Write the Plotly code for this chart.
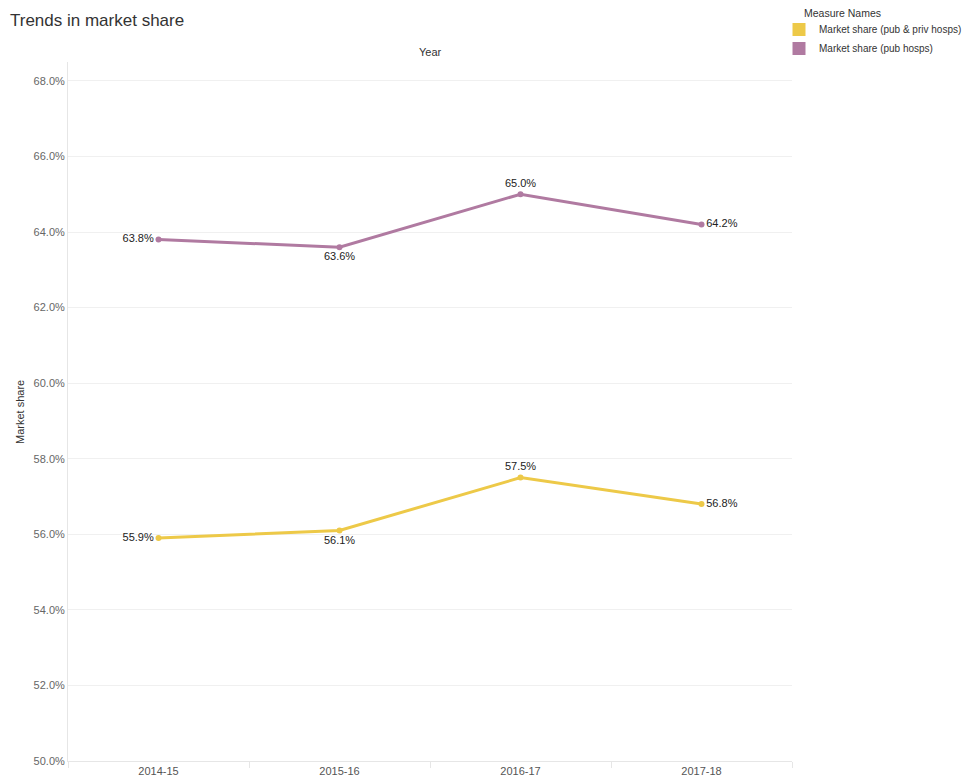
import plotly.graph_objects as go

# Fiscal years and market share (%) for each measure
years = ["2014-15", "2015-16", "2016-17", "2017-18"]
share_pub_priv = [55.9, 56.1, 57.5, 56.8]
share_pub = [63.8, 63.6, 65.0, 64.2]

series_names = ["Market share (pub & priv hosps)", "Market share (pub hosps)"]
series_values = [share_pub_priv, share_pub]
series_colors = ["#edc948", "#b07aa1"]
label_positions = ["middle left", "bottom center", "top center", "middle right"]

y_ticks = [50, 52, 54, 56, 58, 60, 62, 64, 66, 68]

FONT = "Liberation Sans, Arial, sans-serif"

# plot area in pixels
L, R, T, B = 68, 792, 62, 761
W, H = 962, 781

def px_x(x):
    return (x - L) / (R - L)

def px_y(y):
    return (B - y) / (B - T)

fig = go.Figure()

for name, vals, color in zip(series_names, series_values, series_colors):
    fig.add_trace(go.Scatter(
        x=years, y=vals, mode="lines+markers+text",
        line=dict(color=color, width=3),
        marker=dict(color=color, size=6),
        text=[f"{v:.1f}%" for v in vals],
        textposition=label_positions,
        textfont=dict(family=FONT, size=11, color="#222"),
        showlegend=False, hoverinfo="skip",
    ))
    # square swatch entry for the legend
    fig.add_trace(go.Scatter(
        x=[None], y=[None], mode="markers", name=name,
        marker=dict(symbol="square", size=13, color=color),
        showlegend=True,
    ))

fig.update_layout(
    width=W, height=H,
    margin=dict(l=L, r=W - R, t=T, b=H - B, autoexpand=False),
    paper_bgcolor="white", plot_bgcolor="white",
    font=dict(family=FONT, size=11, color="#555"),
    title=dict(text="Trends in market share", x=10 / W, xref="container", xanchor="left",
               y=1 - 20 / H, yref="container", yanchor="middle",
               font=dict(family=FONT, size=17, color="#333")),
    legend=dict(x=px_x(779), xanchor="left", y=px_y(15), yanchor="top",
                font=dict(size=10, color="#333"), itemsizing="trace",
                tracegroupgap=0, bgcolor="rgba(0,0,0,0)"),
    xaxis=dict(type="category", categoryorder="array", categoryarray=years,
               range=[-0.5, 3.5], showgrid=False, tickson="boundaries",
               ticks="outside", ticklen=6, tickcolor="#e6e6e6",
               showline=True, linecolor="#e6e6e6", zeroline=False,
               tickfont=dict(size=11, color="#555")),
    yaxis=dict(range=[50, 68.5], tickvals=y_ticks,
               ticktext=[f"{v:.1f}%" for v in y_ticks],
               showgrid=True, gridcolor="#f0f0f0", zeroline=False,
               showline=True, linecolor="#e6e6e6", ticks="",
               tickfont=dict(size=11, color="#666")),
    annotations=[
        dict(text="Measure Names", xref="paper", yref="paper",
             x=px_x(802), y=px_y(13), xanchor="left", yanchor="middle",
             showarrow=False, font=dict(size=10.5, color="#333")),
        dict(text="Year", xref="paper", yref="paper", x=0.5, y=px_y(52),
             showarrow=False, font=dict(size=11, color="#333"), yanchor="middle"),
        dict(text="Market share", xref="paper", yref="paper", x=px_x(20), y=px_y(412),
             xanchor="center", yanchor="middle",
             textangle=-90, showarrow=False, font=dict(size=11, color="#333")),
    ],
)

fig.write_html("out.html")
